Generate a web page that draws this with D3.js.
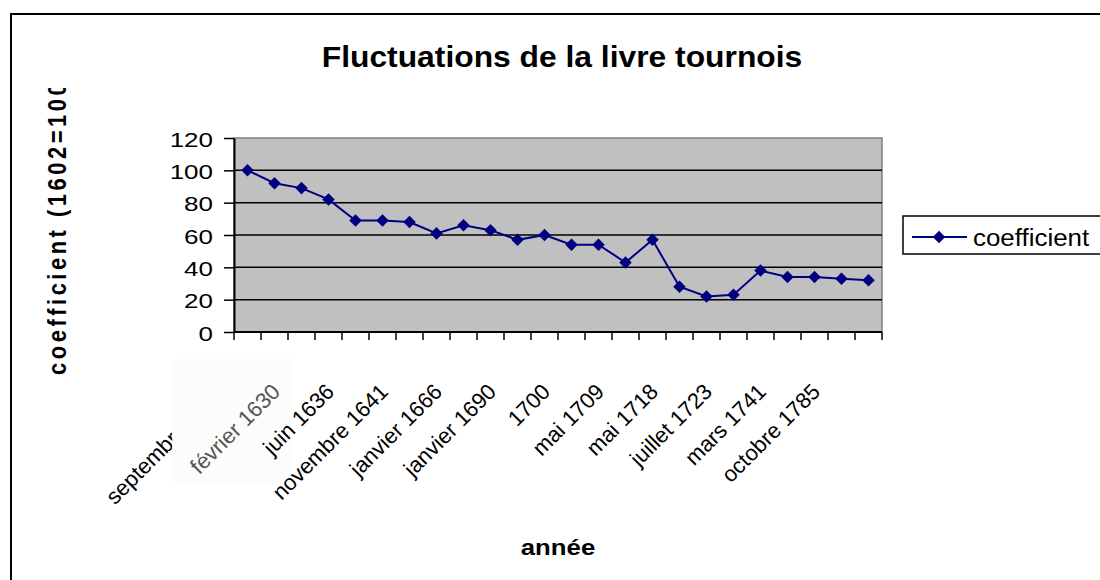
<!DOCTYPE html>
<html>
<head>
<meta charset="utf-8">
<script src="https://cdnjs.cloudflare.com/ajax/libs/d3/7.8.5/d3.min.js"></script>
<style>
  html, body { margin: 0; padding: 0; background: #fff; }
  svg { display: block; font-family: "Liberation Sans", Arial, sans-serif; }
</style>
</head>
<body>
<svg id="chart" width="1100" height="580"></svg>
<script>
// dates des mesures (une étiquette sur deux est affichée sur l'axe)
var categories = [
  "septembre 1602", "août 1615", "février 1630", "mars 1634",
  "juin 1636", "mars 1640", "novembre 1641", "décembre 1652",
  "janvier 1666", "mars 1679", "janvier 1690", "décembre 1693",
  "1700", "décembre 1704", "mai 1709", "décembre 1715",
  "mai 1718", "mars 1720", "juillet 1723", "juin 1726",
  "mars 1741", "janvier 1759", "octobre 1785", "1795"
];
// coefficient (1602 = 100)
var coefficient = [
  100, 92, 89, 82, 69, 69, 68, 61, 66, 63, 57, 60,
  54, 54, 43, 57, 28, 22, 23, 38, 34, 34, 33, 32
];
var yTicks = [0, 20, 40, 60, 80, 100, 120];
var seriesName = "coefficient";
var title = "Fluctuations de la livre tournois";
var xTitle = "année";
var yTitle = "coefficient (1602=100)";

(function() {
  "use strict";

  var svg = d3.select("#chart");
  var margin = {top: 138, right: 218, bottom: 248, left: 234};
  var width = 1100 - margin.left - margin.right;
  var height = 580 - margin.top - margin.bottom;
  var bottom = margin.top + height;

  var x = d3.scaleBand()
    .domain(categories)
    .range([margin.left, margin.left + width])
    .padding(0);
  var y = d3.scaleLinear()
    .domain([0, 120])
    .range([bottom, margin.top]);
  var cx = function(c) { return x(c) + x.bandwidth() / 2; };

  // cadre du graphique (ne se ferme pas a droite / en bas)
  svg.append("rect")
    .attr("x", 11).attr("y", 14)
    .attr("width", 1200).attr("height", 700)
    .attr("fill", "none")
    .attr("stroke", "#000")
    .attr("stroke-width", 2);

  // titre
  svg.append("text")
    .attr("transform", "translate(562,67) scale(1.06,1)")
    .attr("text-anchor", "middle")
    .style("font-size", "30px")
    .style("font-weight", "bold")
    .text(title);

  // zone de tracé
  svg.append("rect")
    .attr("x", margin.left).attr("y", margin.top)
    .attr("width", width).attr("height", height)
    .attr("fill", "#c0c0c0")
    .attr("stroke", "#808080")
    .attr("stroke-width", 1.5);

  svg.append("g")
    .selectAll("line")
    .data(yTicks.filter(function(v) { return v > 0 && v < 120; }))
    .enter().append("line")
    .attr("x1", margin.left).attr("x2", margin.left + width)
    .attr("y1", function(d) { return y(d); })
    .attr("y2", function(d) { return y(d); })
    .attr("stroke", "#000")
    .attr("stroke-width", 1.5);

  // axe Y
  var yAxis = svg.append("g")
    .attr("transform", "translate(" + margin.left + ",0)")
    .call(d3.axisLeft(y).tickValues(yTicks).tickSizeInner(10).tickSizeOuter(0));
  yAxis.select(".domain").attr("stroke", "#000").attr("stroke-width", 2);
  yAxis.selectAll(".tick line").attr("stroke", "#000").attr("stroke-width", 1.5);
  yAxis.selectAll(".tick text")
    .attr("fill", "#000")
    .attr("x", -21 / 1.3)
    .attr("dy", "0.4em")
    .attr("transform", "scale(1.3,1)")
    .style("font-size", "20px")
    .style("font-family", "'Liberation Sans', Arial, sans-serif");

  // axe X
  svg.append("line")
    .attr("x1", margin.left).attr("x2", margin.left + width)
    .attr("y1", bottom).attr("y2", bottom)
    .attr("stroke", "#000").attr("stroke-width", 2);
  svg.append("g")
    .selectAll("line")
    .data(d3.range(categories.length + 1))
    .enter().append("line")
    .attr("x1", function(i) { return x.range()[0] + i * x.step(); })
    .attr("x2", function(i) { return x.range()[0] + i * x.step(); })
    .attr("y1", bottom).attr("y2", bottom + 8)
    .attr("stroke", "#000").attr("stroke-width", 1.5);

  var labels = svg.append("g").attr("class", "xlabels");
  var shown = categories.filter(function(c, i) { return i % 2 === 0; });
  labels.selectAll("text")
    .data(shown)
    .enter().append("text")
    .attr("transform", function(c) {
      return "translate(" + (cx(c) - 20) + "," + (bottom + 61) + ") rotate(-45)";
    })
    .attr("text-anchor", "end")
    .style("font-size", "22px")
    .attr("fill", function(c, i) { return i === 1 ? "#555" : "#000"; })
    .text(function(c) { return c; });

  // l'étiquette "février 1630" est collée avec un fond clair qui masque la précédente
  var fev = labels.selectAll("text").filter(function(c, i) { return i === 1; });
  var bb = fev.node().getBoundingClientRect();
  labels.insert("rect", function() { return fev.node(); })
    .attr("x", bb.left - 13).attr("y", bb.top - 20)
    .attr("width", bb.width + 21).attr("height", bb.height + 24)
    .attr("fill", "#fcfcfc");
  // les étiquettes suivantes passent au-dessus du fond
  labels.selectAll("text").filter(function(c, i) { return i > 1; }).raise();

  // série
  var line = d3.line()
    .x(function(d, i) { return cx(categories[i]); })
    .y(function(d) { return y(d); });
  svg.append("path")
    .datum(coefficient)
    .attr("d", line)
    .attr("fill", "none")
    .attr("stroke", "#000080")
    .attr("stroke-width", 2);

  var diamond = d3.symbol().type(d3.symbolDiamond2 || d3.symbolDiamond).size(100);
  svg.append("g")
    .selectAll("path")
    .data(coefficient)
    .enter().append("path")
    .attr("d", diamond)
    .attr("transform", function(d, i) {
      return "translate(" + cx(categories[i]) + "," + y(d) + ")";
    })
    .attr("fill", "#000080");

  // titres des axes
  svg.append("text")
    .attr("transform", "translate(" + (margin.left + width / 2) + ",555) scale(1.12,1)")
    .attr("text-anchor", "middle")
    .style("font-size", "23px")
    .style("font-weight", "bold")
    .text(xTitle);

  svg.append("clipPath").attr("id", "clipY")
    .append("rect").attr("x", 0).attr("y", 88).attr("width", 200).attr("height", 400);
  svg.append("g")
    .attr("clip-path", "url(#clipY)")
    .append("text")
    .attr("transform", "translate(66,375) scale(1.2,1) rotate(-90)")
    .style("font-size", "22px")
    .style("font-weight", "bold")
    .style("letter-spacing", "3.5px")
    .text(yTitle);

  // légende
  var leg = svg.append("g").attr("transform", "translate(903,216)");
  leg.append("rect")
    .attr("width", 220).attr("height", 38)
    .attr("fill", "#fff")
    .attr("stroke", "#000").attr("stroke-width", 1.5);
  leg.append("line")
    .attr("x1", 9).attr("x2", 64).attr("y1", 21).attr("y2", 21)
    .attr("stroke", "#000080").attr("stroke-width", 2);
  leg.append("path")
    .attr("d", diamond)
    .attr("transform", "translate(36,21)")
    .attr("fill", "#000080");
  leg.append("text")
    .attr("transform", "translate(70,30) scale(1.08,1)")
    .style("font-size", "24px")
    .text(seriesName);
})();
</script>
</body>
</html>
